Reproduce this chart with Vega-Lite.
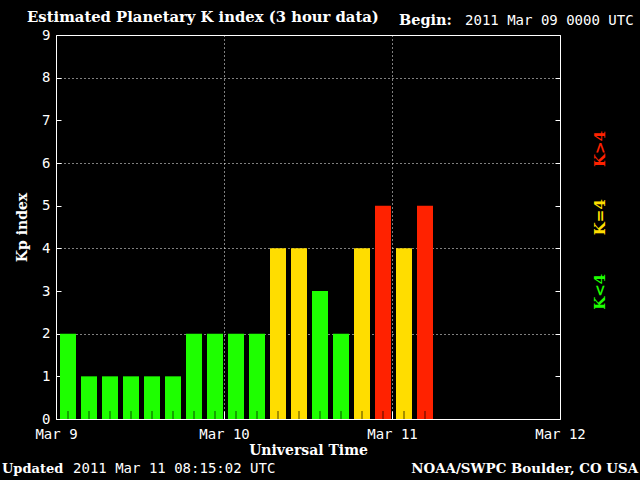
{
  "$schema": "https://vega.github.io/schema/vega-lite/v6.json",
  "autosize": "none",
  "width": 504,
  "height": 384,
  "padding": {"left": 56, "top": 35, "right": 80, "bottom": 61},
  "background": "black",
  "config": {
    "view": {"stroke": "white", "strokeWidth": 1},
    "axis": {
      "domain": false,
      "labelColor": "white",
      "labelFont": "DejaVu Sans Mono",
      "labelFontSize": 14,
      "labelFontWeight": "normal",
      "titleColor": "white",
      "titleFont": "DejaVu Serif",
      "titleFontSize": 14,
      "titleFontWeight": "bold",
      "tickColor": "white",
      "tickWidth": 1,
      "gridColor": "white",
      "gridDash": [1, 3],
      "gridWidth": 1,
      "labelFlush": false,
      "labelOverlap": false
    }
  },
  "data": {
    "values": [
      {"time": "2011-03-09T00:00:00", "kp": 2},
      {"time": "2011-03-09T03:00:00", "kp": 1},
      {"time": "2011-03-09T06:00:00", "kp": 1},
      {"time": "2011-03-09T09:00:00", "kp": 1},
      {"time": "2011-03-09T12:00:00", "kp": 1},
      {"time": "2011-03-09T15:00:00", "kp": 1},
      {"time": "2011-03-09T18:00:00", "kp": 2},
      {"time": "2011-03-09T21:00:00", "kp": 2},
      {"time": "2011-03-10T00:00:00", "kp": 2},
      {"time": "2011-03-10T03:00:00", "kp": 2},
      {"time": "2011-03-10T06:00:00", "kp": 4},
      {"time": "2011-03-10T09:00:00", "kp": 4},
      {"time": "2011-03-10T12:00:00", "kp": 3},
      {"time": "2011-03-10T15:00:00", "kp": 2},
      {"time": "2011-03-10T18:00:00", "kp": 4},
      {"time": "2011-03-10T21:00:00", "kp": 5},
      {"time": "2011-03-11T00:00:00", "kp": 4},
      {"time": "2011-03-11T03:00:00", "kp": 5}
    ]
  },
  "layer": [
    {
      "mark": {"type": "bar", "width": 16, "xOffset": 12},
      "encoding": {
        "x": {
          "field": "time",
          "type": "temporal",
          "title": "Universal Time",
          "scale": {
            "domain": [
              {"year": 2011, "month": 3, "date": 9},
              {"year": 2011, "month": 3, "date": 12}
            ],
            "nice": false,
            "padding": 0
          },
          "axis": {
            "values": [
              {"year": 2011, "month": 3, "date": 9},
              {"year": 2011, "month": 3, "date": 10},
              {"year": 2011, "month": 3, "date": 11},
              {"year": 2011, "month": 3, "date": 12}
            ],
            "format": "%b %-d",
            "tickSize": -8,
            "labelPadding": 16,
            "titlePadding": 2,
            "grid": true
          }
        },
        "y": {
          "field": "kp",
          "type": "quantitative",
          "title": "Kp index",
          "scale": {"domain": [0, 9], "nice": false, "zero": true, "padding": 0},
          "axis": {
            "orient": "left",
            "values": [0, 1, 2, 3, 4, 5, 6, 7, 8, 9],
            "tickSize": -5,
            "labelPadding": 11,
            "titlePadding": 12,
            "grid": true,
            "gridOpacity": {"condition": {"test": "datum.value % 2 === 0", "value": 1}, "value": 0}
          }
        },
        "color": {
          "field": "kp",
          "type": "quantitative",
          "scale": {"type": "threshold", "domain": [4, 5], "range": ["#1eff00", "#ffdd00", "#ff2200"]},
          "legend": null
        }
      }
    },
    {
      "mark": {"type": "tick", "orient": "vertical", "color": "black", "size": 8, "thickness": 1, "xOffset": 12, "yOffset": -4},
      "encoding": {
        "x": {"field": "time", "type": "temporal", "axis": null},
        "y": {
          "datum": 0,
          "type": "quantitative",
          "axis": {
            "orient": "right",
            "values": [0, 1, 2, 3, 4, 5, 6, 7, 8, 9],
            "tickSize": -5,
            "labels": false,
            "grid": false,
            "title": null
          }
        }
      }
    },
    {
      "data": {"values": [{}]},
      "mark": {"type": "text", "text": "Estimated Planetary K index (3 hour data)", "align": "left", "baseline": "middle", "font": "DejaVu Serif", "fontWeight": "bold", "fontSize": 14.8, "color": "white"},
      "encoding": {
        "x": {"datum": {"year": 2011, "month": 3, "date": 8, "hours": 19, "minutes": 52}, "type": "temporal", "axis": null},
        "y": {"datum": 9.4, "type": "quantitative", "axis": null}
      }
    },
    {
      "data": {"values": [{}]},
      "mark": {"type": "text", "text": "Begin:", "align": "right", "baseline": "middle", "font": "DejaVu Serif", "fontWeight": "bold", "fontSize": 14.5, "color": "white"},
      "encoding": {
        "x": {"datum": {"year": 2011, "month": 3, "date": 11, "hours": 8, "minutes": 34}, "type": "temporal", "axis": null},
        "y": {"datum": 9.33, "type": "quantitative", "axis": null}
      }
    },
    {
      "data": {"values": [{}]},
      "mark": {"type": "text", "text": "2011 Mar 09 0000 UTC", "align": "left", "baseline": "middle", "font": "DejaVu Sans Mono", "fontSize": 14, "color": "white"},
      "encoding": {
        "x": {"datum": {"year": 2011, "month": 3, "date": 11, "hours": 10, "minutes": 26}, "type": "temporal", "axis": null},
        "y": {"datum": 9.33, "type": "quantitative", "axis": null}
      }
    },
    {
      "data": {"values": [{}]},
      "mark": {"type": "text", "text": "Updated", "align": "left", "baseline": "middle", "font": "DejaVu Serif", "fontWeight": "bold", "fontSize": 13, "color": "white"},
      "encoding": {
        "x": {"datum": {"year": 2011, "month": 3, "date": 8, "hours": 16, "minutes": 17}, "type": "temporal", "axis": null},
        "y": {"datum": -1.17, "type": "quantitative", "axis": null}
      }
    },
    {
      "data": {"values": [{}]},
      "mark": {"type": "text", "text": "2011 Mar 11 08:15:02 UTC", "align": "left", "baseline": "middle", "font": "DejaVu Sans Mono", "fontSize": 14, "color": "white"},
      "encoding": {
        "x": {"datum": {"year": 2011, "month": 3, "date": 9, "hours": 2, "minutes": 26}, "type": "temporal", "axis": null},
        "y": {"datum": -1.17, "type": "quantitative", "axis": null}
      }
    },
    {
      "data": {"values": [{}]},
      "mark": {"type": "text", "text": "NOAA/SWPC Boulder, CO USA", "align": "right", "baseline": "middle", "font": "DejaVu Serif", "fontWeight": "bold", "fontSize": 13.4, "color": "white"},
      "encoding": {
        "x": {"datum": {"year": 2011, "month": 3, "date": 12, "hours": 11, "minutes": 9}, "type": "temporal", "axis": null},
        "y": {"datum": -1.17, "type": "quantitative", "axis": null}
      }
    },
    {
      "data": {"values": [{}]},
      "mark": {"type": "text", "text": "K>4", "angle": 270, "align": "center", "baseline": "middle", "font": "DejaVu Serif", "fontWeight": "bold", "fontSize": 15, "color": "#ff2200"},
      "encoding": {
        "x": {"datum": {"year": 2011, "month": 3, "date": 12, "hours": 5, "minutes": 43}, "type": "temporal", "axis": null},
        "y": {"datum": 6.33, "type": "quantitative", "axis": null}
      }
    },
    {
      "data": {"values": [{}]},
      "mark": {"type": "text", "text": "K=4", "angle": 270, "align": "center", "baseline": "middle", "font": "DejaVu Serif", "fontWeight": "bold", "fontSize": 15, "color": "#ffdd00"},
      "encoding": {
        "x": {"datum": {"year": 2011, "month": 3, "date": 12, "hours": 5, "minutes": 43}, "type": "temporal", "axis": null},
        "y": {"datum": 4.73, "type": "quantitative", "axis": null}
      }
    },
    {
      "data": {"values": [{}]},
      "mark": {"type": "text", "text": "K<4", "angle": 270, "align": "center", "baseline": "middle", "font": "DejaVu Serif", "fontWeight": "bold", "fontSize": 15, "color": "#1eff00"},
      "encoding": {
        "x": {"datum": {"year": 2011, "month": 3, "date": 12, "hours": 5, "minutes": 43}, "type": "temporal", "axis": null},
        "y": {"datum": 2.98, "type": "quantitative", "axis": null}
      }
    }
  ],
  "resolve": {"axis": {"x": "independent", "y": "independent"}}
}
